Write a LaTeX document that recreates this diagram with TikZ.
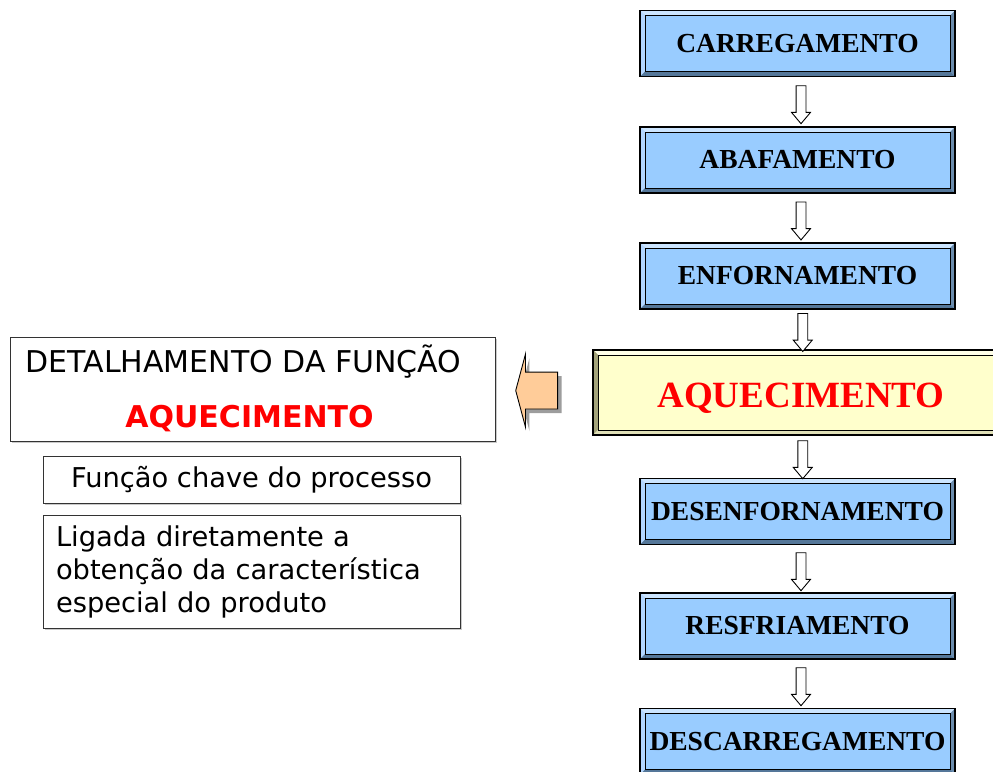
\documentclass[tikz,border=0pt]{standalone}
\usepackage{fontspec}
\setmainfont{Liberation Serif}
\newfontfamily\verdanalike{DejaVu Sans}
\usetikzlibrary{shapes.arrows,shadows}

\definecolor{boxblue}{HTML}{99CCFF}
\definecolor{bluetop}{HTML}{CCE5FF}
\definecolor{blueleft}{HTML}{B3D6FF}
\definecolor{bluebottom}{HTML}{557799}
\definecolor{blueright}{HTML}{6B8CAD}
\definecolor{boxyellow}{HTML}{FFFFCC}
\definecolor{yellowtop}{HTML}{FFFFE8}
\definecolor{yellowleft}{HTML}{A3A37A}
\definecolor{yellowbottom}{HTML}{E0E0B8}
\definecolor{yellowright}{HTML}{C0C090}
\definecolor{arroworange}{HTML}{FFCC99}

\tikzset{
	bevel/.style n args={4}{path picture={
		\path (path picture bounding box.north west) coordinate (bv-nw)
			(path picture bounding box.north east) coordinate (bv-ne)
			(path picture bounding box.south east) coordinate (bv-se)
			(path picture bounding box.south west) coordinate (bv-sw);
		\fill[#1] (bv-nw) -- (bv-ne) -- ([shift={(-5pt,-5pt)}]bv-ne) -- ([shift={(5pt,-5pt)}]bv-nw) -- cycle;
		\fill[#2] (bv-nw) -- (bv-sw) -- ([shift={(5pt,5pt)}]bv-sw) -- ([shift={(5pt,-5pt)}]bv-nw) -- cycle;
		\fill[#3] (bv-sw) -- (bv-se) -- ([shift={(-5pt,5pt)}]bv-se) -- ([shift={(5pt,5pt)}]bv-sw) -- cycle;
		\fill[#4] (bv-ne) -- (bv-se) -- ([shift={(-5pt,5pt)}]bv-se) -- ([shift={(-5pt,-5pt)}]bv-ne) -- cycle;
		\draw[line width=0.6pt] ([shift={(5pt,-5pt)}]bv-nw) rectangle ([shift={(-5pt,5pt)}]bv-se);
	}},
	stepbox/.style={draw, line width=1.2pt, fill=boxblue, minimum width=315, minimum height=66, inner sep=0,
		font=\fontsize{27.5}{30}\selectfont\bfseries, bevel={bluetop}{blueleft}{bluebottom}{blueright}},
	keybox/.style={draw, line width=1.2pt, fill=boxyellow, minimum width=416, minimum height=85, inner sep=0,
		text height=29.4, text depth=0, text=red, font=\fontsize{37}{40}\selectfont\bfseries,
		bevel={yellowtop}{yellowleft}{yellowbottom}{yellowright}},
	flowarrow/.style={single arrow, draw, fill=white, line width=0.9pt, shape border rotate=270, inner sep=4.5,
		single arrow head extend=4.5, single arrow tip angle=80, minimum height=38, xshift=3.5},
	notebox/.style={draw=black!80, line width=1pt, fill=white, inner sep=0,
		drop shadow={shadow xshift=2pt, shadow yshift=-2pt, fill=black!35, opacity=0.6}},
}

\begin{document}
\begin{tikzpicture}[x=1pt, y=-1pt]
	\useasboundingbox (0,0) rectangle (993,771);
	%process steps
		\node[stepbox] (carregamento) at (797.5,43.5) {CARREGAMENTO};
		\node[stepbox] (abafamento) at (797.5,160) {ABAFAMENTO};
		\node[stepbox] (enfornamento) at (797.5,276) {ENFORNAMENTO};
		\node[keybox] (aquecimento) at (801,392.5) {AQUECIMENTO};
		\node[stepbox] (desenfornamento) at (797.5,511.5) {DESENFORNAMENTO};
		\node[stepbox] (resfriamento) at (797.5,626) {RESFRIAMENTO};
		\node[stepbox] (descarregamento) at (797.5,741.5) {DESCARREGAMENTO};
	%arrows between steps
		\foreach \a/\b in {carregamento/abafamento, abafamento/enfornamento, enfornamento/aquecimento,
			aquecimento/desenfornamento, desenfornamento/resfriamento, resfriamento/descarregamento}
			\path (\a.south) -- (\b.north) node[midway, flowarrow] (seta-\a) {};
	%detail of the function
		\node[notebox, minimum width=485, minimum height=104] (detalhe) at (252.5,389) {};
		\node[anchor=base west, font=\verdanalike\fontsize{30}{34}\selectfont] (titulo) at (22,372) {DETALHAMENTO DA FUNÇÃO};
		\node[anchor=base, text=red, font=\verdanalike\fontsize{30}{34}\selectfont\bfseries] (funcao) at (249.5,427) {AQUECIMENTO};
		\path (aquecimento.west) -- (detalhe.east) node[pos=0.55, single arrow, draw, fill=arroworange, line width=0.9pt,
			shape border rotate=180, inner sep=18, single arrow head extend=18, single arrow tip angle=150, minimum height=38,
			drop shadow={shadow xshift=4pt, shadow yshift=-4pt, fill=black!55, opacity=0.7}] (seta-detalhe) {};
	%notes
		\node[notebox, minimum width=417, minimum height=47, font=\verdanalike\fontsize{27.3}{33}\selectfont] (chave) at (251.5,479.5) {Função chave do processo};
		\node[notebox, minimum width=417, minimum height=113, inner xsep=13, text width=391, align=left,
			font=\verdanalike\fontsize{27.3}{33}\selectfont] (ligada) at (251.5,571.5) {Ligada diretamente a\\obtenção da característica\\especial do produto};
\end{tikzpicture}
\end{document}
